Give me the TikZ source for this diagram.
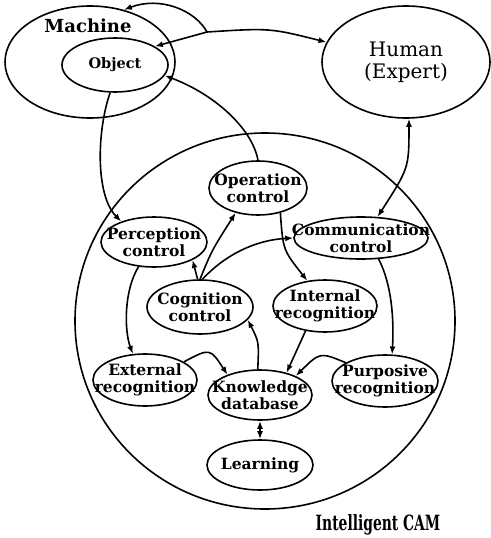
\documentclass[tikz,border=0pt]{standalone}
\usepackage{fontspec}
\usepackage{graphicx}
\setmainfont{DejaVu Serif}
\usetikzlibrary{shapes.geometric,arrows.meta}
\begin{document}
\begin{tikzpicture}[x=1pt,y=-1pt,line width=1.6pt,
  ell/.style={draw, ellipse, inner sep=0pt, line width=1.6pt},
  lbl/.style={font=\bfseries\fontsize{15.5}{17}\selectfont, align=center, inner sep=0pt},
  arr/.style={-{Latex[length=8pt,width=6pt]}},
  darr/.style={{Latex[length=8pt,width=6pt]}-{Latex[length=8pt,width=6pt]}},
  ]
\useasboundingbox (0,0) rectangle (490,538);
% big circle
\node[ell, minimum width=380, minimum height=376] (cam) at (265,321) {};
% outer ellipses
\node[ell, minimum width=170, minimum height=112] (mach) at (90,62) {};
\node[font=\bfseries\fontsize{18}{20}\selectfont, inner sep=0pt] (machl) at (88,26) {Machine};
\node[ell, minimum width=106, minimum height=54,
  label={[lbl, font=\bfseries\fontsize{14.5}{17}\selectfont]center:Object}] (obj) at (115,65) {};
\node[ell, minimum width=168, minimum height=112,
  label={[font=\fontsize{20}{22}\selectfont, align=center, inner sep=0pt]center:Human\\(Expert)}] (hum) at (406,62) {};
% inner ellipses
\node[ell, minimum width=98, minimum height=54, label={[lbl]center:Operation\\control}] (op) at (258,188) {};
\node[ell, minimum width=106, minimum height=50, label={[lbl]center:Perception\\control}] (perc) at (154,242) {};
\node[ell, minimum width=134, minimum height=42, label={[lbl]center:Communication\\control}] (comm) at (361,238) {};
\node[ell, minimum width=106, minimum height=54, label={[lbl]center:Cognition\\control}] (cog) at (200,307) {};
\node[ell, minimum width=104, minimum height=52, label={[lbl]center:Internal\\recognition}] (int) at (325,306) {};
\node[ell, minimum width=104, minimum height=52, label={[lbl]center:External\\recognition}] (ext) at (145,380) {};
\node[ell, minimum width=104, minimum height=50, label={[lbl]center:Knowledge\\database}] (kn) at (260,395) {};
\node[ell, minimum width=106, minimum height=52, label={[lbl]center:Purposive\\recognition}] (pur) at (385,381) {};
\node[ell, minimum width=106, minimum height=50, label={[lbl]center:Learning}] (learn) at (260,465) {};
\node[anchor=base, inner sep=0pt, font=\bfseries\fontsize{21}{22}\selectfont] (capt) at (378,530) {\scalebox{0.66}[1]{Intelligent CAM}};
% connectors
\coordinate (J) at (207,32);
\draw[arr] (J) .. controls (195,10) and (160,-4) .. (mach.57);
\draw[arr] (J) -- (obj.25);
\draw[arr] (J) .. controls (270,28) .. (hum.166);
\draw[arr] (op.north) .. controls (252,128) and (214,94) .. (obj.-12);
\draw[arr] (obj.-100) .. controls (97,130) and (95,195) .. (perc.148);
\draw[darr] (hum.-87) .. controls (409,168) .. (comm.52);
\draw[arr] (cog.95) -- (perc.-25);
\draw[arr] (cog.north) .. controls (212,250) .. (op.-132);
\draw[arr] (cog.85) .. controls (225,255) and (255,240) .. (comm.west);
\draw[arr] (op.-48) .. controls (283,250) .. (int.125);
\draw[arr] (perc.-122) .. controls (124,290) and (124,330) .. (ext.115);
\draw[arr] (comm.-50) .. controls (392,285) and (394,320) .. (pur.75);
\draw[arr] (ext.25) .. controls (210,348) .. (kn.148);
\draw[arr] (int.-128) -- (kn.40);
\draw[arr] (pur.155) .. controls (320,352) .. (kn.28);
\draw[arr] (kn.95) .. controls (259,342) .. (cog.-15);
\draw[darr] (kn.south) -- (learn.north);
\end{tikzpicture}
\end{document}
